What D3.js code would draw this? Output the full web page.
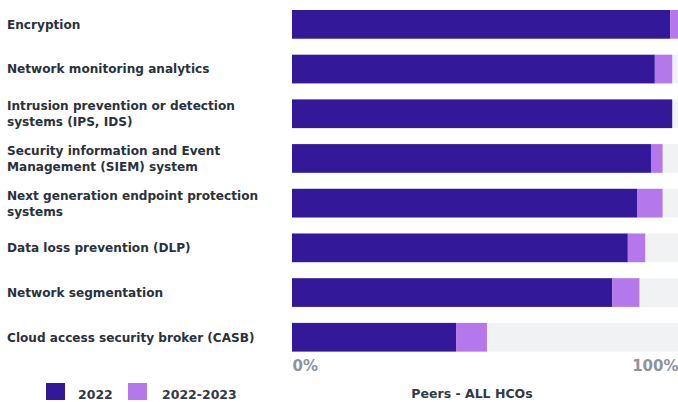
<!DOCTYPE html>
<html>
<head>
<meta charset="utf-8">
<script src="https://cdn.jsdelivr.net/npm/d3@7"></script>
<style>
  html, body { margin: 0; padding: 0; background: #ffffff; }
  svg { display: block; }
  text { font-family: "DejaVu Sans", sans-serif; font-weight: bold; }
</style>
</head>
<body>
<svg id="chart" width="678" height="402"></svg>
<script>
// Security technologies adopted, share of peers (%)
const categories = [
  "Encryption",
  "Network monitoring analytics",
  "Intrusion prevention or detection|systems (IPS, IDS)",
  "Security information and Event|Management (SIEM) system",
  "Next generation endpoint protection|systems",
  "Data loss prevention (DLP)",
  "Network segmentation",
  "Cloud access security broker (CASB)"
];
const values2022 = [98, 94, 98.5, 93, 89.5, 87, 83, 42.5];
const values2023 = [2, 4.5, 0, 3, 6.5, 4.5, 7, 8];
const seriesNames = ["2022", "2022-2023"];
const tickValues = [0, 100];
const axisTitle = "Peers - ALL HCOs";

const colors = { s2022: "#331899", s2023: "#b577ec", track: "#f1f2f4" };

const svg = d3.select("#chart");

const x = d3.scaleLinear().domain([0, 100]).range([292, 678]);
const step = 44.7;
const y = d3.scaleBand()
  .domain(categories)
  .range([2, 2 + step * categories.length])
  .paddingInner(16 / step)
  .paddingOuter(8 / step);

const rows = categories.map((c, i) => ({
  cat: c,
  a: values2022[i],
  b: values2023[i]
}));

// background track
svg.append("g").selectAll("rect")
  .data(rows).join("rect")
  .attr("x", x(0))
  .attr("y", d => y(d.cat))
  .attr("width", x(100) - x(0))
  .attr("height", y.bandwidth())
  .attr("fill", colors.track);

// 2022 segment
svg.append("g").selectAll("rect")
  .data(rows).join("rect")
  .attr("x", x(0))
  .attr("y", d => y(d.cat))
  .attr("width", d => x(d.a) - x(0))
  .attr("height", y.bandwidth())
  .attr("fill", colors.s2022);

// 2022-2023 segment stacked on top
svg.append("g").selectAll("rect")
  .data(rows.filter(d => d.b > 0)).join("rect")
  .attr("x", d => x(d.a))
  .attr("y", d => y(d.cat))
  .attr("width", d => x(d.a + d.b) - x(d.a))
  .attr("height", y.bandwidth())
  .attr("fill", colors.s2023);

// category labels (multi-line where needed)
const lineH = 16;
svg.append("g").selectAll("text")
  .data(rows).join("text")
  .attr("x", 7)
  .attr("fill", "#2b313b")
  .attr("font-size", 12.1)
  .each(function (d) {
    const lines = d.cat.split("|");
    const cy = y(d.cat) + y.bandwidth() / 2;
    const y0 = cy - (lines.length - 1) * lineH / 2;
    d3.select(this).selectAll("tspan")
      .data(lines).join("tspan")
      .attr("x", 7)
      .attr("y", (l, j) => y0 + j * lineH)
      .attr("dy", "0.36em")
      .text(l => l);
  });

// value axis
const axis = d3.axisBottom(x)
  .tickValues(tickValues)
  .tickFormat(d => d + "%")
  .tickSize(0)
  .tickPadding(0);

const gAxis = svg.append("g")
  .attr("transform", "translate(0,358)")
  .call(axis);
gAxis.select(".domain").remove();
gAxis.selectAll("text")
  .attr("font-family", "DejaVu Sans, sans-serif")
  .attr("font-weight", "bold")
  .attr("font-size", 15)
  .attr("fill", "#8c939c")
  .attr("dy", "0.85em")
  .attr("text-anchor", d => d === 0 ? "start" : "end");

// axis title
svg.append("text")
  .attr("x", 472)
  .attr("y", 398)
  .attr("text-anchor", "middle")
  .attr("font-size", 12.5)
  .attr("fill", "#333a44")
  .text(axisTitle);

// legend
const legend = [
  { name: seriesNames[0], color: colors.s2022, sx: 46, tx: 78 },
  { name: seriesNames[1], color: colors.s2023, sx: 128, tx: 162 }
];
const lg = svg.append("g").selectAll("g").data(legend).join("g");
lg.append("rect")
  .attr("x", d => d.sx).attr("y", 383)
  .attr("width", 19).attr("height", 17)
  .attr("fill", d => d.color);
lg.append("text")
  .attr("x", d => d.tx).attr("y", 399)
  .attr("font-size", 12.5)
  .attr("fill", "#333a44")
  .text(d => d.name);
</script>
</body>
</html>
